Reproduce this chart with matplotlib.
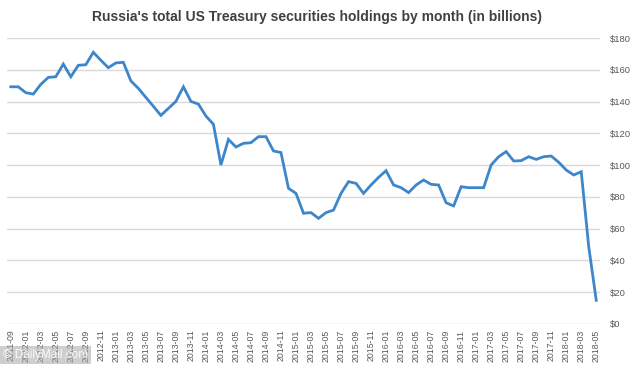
"""Russia's US Treasury holdings by month, redrawn as a PNG."""

import matplotlib

matplotlib.use("Agg")
import matplotlib.pyplot as plt
from matplotlib.ticker import FuncFormatter, MultipleLocator

LINE_BLUE = "#3D86CB"
GRID_GREY = "#D9D9D9"
TEXT_GREY = "#595959"
TITLE_GREY = "#404040"

plt.rcParams["font.family"] = ["Liberation Sans", "DejaVu Sans"]

months = ["2011-09", "2011-12"] + [
    f"{y}-{m:02d}" for y in range(2012, 2019) for m in range(1, 13)
][:77]

holdings = [
    149.3, 149.3, 145.6, 144.7, 150.8, 155.2, 155.6, 163.6, 155.6, 162.8,
    163.2, 171.0, 166.0, 161.3, 164.3, 164.7, 153.0, 148.3, 142.6, 137.0,
    131.3, 135.7, 140.1, 149.3, 140.1, 138.4, 130.9, 125.7, 100.1, 116.2,
    111.4, 113.7, 114.1, 117.9, 117.9, 108.9, 107.9, 85.4, 82.2, 69.7,
    70.1, 66.5, 70.1, 71.7, 82.2, 89.6, 88.5, 82.2, 87.5, 92.3,
    96.5, 87.5, 85.8, 82.7, 87.5, 90.6, 87.9, 87.5, 76.3, 74.3,
    86.4, 85.8, 85.8, 85.8, 100.1, 105.3, 108.5, 102.6, 102.8, 105.3,
    103.6, 105.3, 105.7, 101.8, 96.9, 93.8, 95.8, 48.6, 14.9,
]

title = "Russia's total US Treasury securities holdings by month (in billions)"

fig = plt.figure(figsize=(6.34, 3.67), dpi=100, facecolor="white")
ax = fig.add_axes([7 / 634, 43 / 367, 593 / 634, 286 / 367])

x = range(len(holdings))
ax.plot(x, holdings, color=LINE_BLUE, linewidth=2.0, solid_joinstyle="miter", zorder=3)

ax.set_xlim(-0.5, len(holdings) - 0.5)
ax.set_ylim(0, 180)
ax.yaxis.set_major_locator(MultipleLocator(20))
ax.yaxis.set_major_formatter(FuncFormatter(lambda v, _: f"${v:,.0f}"))
ax.yaxis.tick_right()
ax.grid(axis="y", color=GRID_GREY, linewidth=1.0)
ax.set_axisbelow(True)
for side in ("top", "right", "left", "bottom"):
    ax.spines[side].set_visible(False)
ax.tick_params(axis="y", length=0, pad=7, labelsize=6.8, labelcolor=TEXT_GREY)
ax.tick_params(axis="x", length=0, pad=4, labelsize=6.3, labelcolor=TEXT_GREY)

ticks = list(range(0, len(months), 2))
ax.set_xticks(ticks)
ax.set_xticklabels([months[i] for i in ticks], rotation=90)

fig.text(
    0.5, 1 - 17 / 367, title,
    ha="center", va="center", fontsize=10, fontweight="bold", color=TITLE_GREY,
)

fig.text(
    3 / 634, 6 / 367, "\u00a9 DailyMail.com",
    ha="left", va="bottom", fontsize=8.5, color="white", alpha=0.9,
    bbox={"boxstyle": "square,pad=0.25", "facecolor": "#A6A6A6", "edgecolor": "none", "alpha": 0.55},
)

fig.savefig("out.png", dpi=100, facecolor="white")
